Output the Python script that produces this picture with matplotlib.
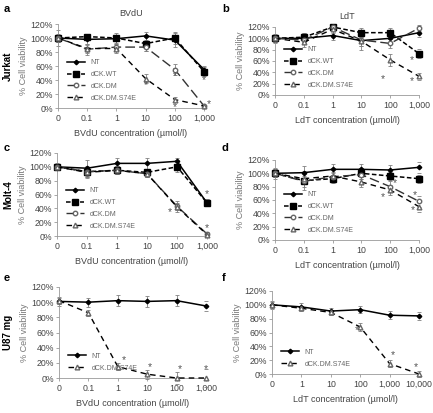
import numpy as np
import matplotlib
matplotlib.use("Agg")
import matplotlib.pyplot as plt

plt.rcParams['font.family'] = ['Liberation Sans', 'DejaVu Sans']

W, H = 433, 413

conc_bvdu = ['0', '0.1', '1', '10', '100', '1,000']
conc_ldt = ['0', '0.1', '1', '10', '100', '1,000']
conc_ldt_u87 = ['0', '1', '10', '100', '1,000', '10,000']

# a: Jurkat / BVdU
a_nt = [100, 98, 99, 103, 97, 55]
a_wt = [100, 102, 100, 92, 100, 52]
a_dm = [100, 84, 87, 87, 55, 3]
a_s74e = [100, 85, 85, 42, 12, 3]
a_nt_err = [12, 8, 8, 6, 10, 5]
a_wt_err = [5, 4, 4, 10, 8, 6]
a_dm_err = [6, 8, 6, 6, 8, 2]
a_s74e_err = [5, 6, 6, 6, 4, 2]
a_stars = [(3, 33), (4, 46), (4, 2), (5, 40), (5.15, 6)]

# b: Jurkat / LdT
b_nt = [100, 100, 105, 96, 100, 110]
b_wt = [100, 102, 120, 110, 110, 73]
b_dm = [100, 97, 120, 97, 91, 118]
b_s74e = [100, 93, 116, 95, 62, 33]
b_nt_err = [8, 10, 8, 10, 10, 8]
b_wt_err = [6, 8, 6, 8, 8, 8]
b_dm_err = [6, 6, 4, 18, 8, 5]
b_s74e_err = [6, 8, 6, 8, 10, 6]
b_stars = [(3.75, 28), (4.75, 62), (4.75, 24)]

# c: Molt-4 / BVdU
c_nt = [100, 98, 105, 105, 108, 48]
c_wt = [100, 93, 95, 92, 100, 48]
c_dm = [100, 93, 95, 90, 43, 3]
c_s74e = [100, 92, 95, 90, 42, 2]
c_nt_err = [5, 12, 8, 8, 5, 5]
c_wt_err = [4, 6, 6, 5, 8, 5]
c_dm_err = [4, 8, 6, 5, 5, 3]
c_s74e_err = [4, 8, 6, 5, 8, 3]
c_stars = [(3.75, 34), (5, 60), (5, 12)]

# d: Molt-4 / LdT
d_nt = [100, 101, 106, 106, 105, 109]
d_wt = [100, 89, 92, 100, 96, 92]
d_dm = [100, 88, 95, 98, 80, 58]
d_s74e = [100, 92, 96, 87, 75, 50]
d_nt_err = [8, 10, 8, 8, 8, 8]
d_wt_err = [6, 14, 6, 8, 6, 6]
d_dm_err = [6, 8, 6, 6, 8, 8]
d_s74e_err = [6, 8, 6, 8, 8, 8]
d_stars = [(4.15, 85), (3.75, 65), (4.85, 68), (4.8, 45)]

# e: U87 mg / BVdU
e_nt = [101, 100, 102, 101, 102, 95]
e_s74e = [102, 86, 15, 5, 0, 0]
e_nt_err = [6, 6, 7, 7, 7, 6]
e_s74e_err = [4, 4, 5, 6, 8, 12]
e_stars = [(2.2, 24), (3.1, 15), (4.1, 12), (5.0, 12)]

# f: U87 mg / LdT
f_nt = [100, 97, 91, 93, 85, 84]
f_s74e = [100, 95, 89, 68, 15, 0]
f_nt_err = [6, 5, 5, 5, 6, 6]
f_s74e_err = [4, 4, 4, 6, 5, 4]
f_stars = [(2.9, 64), (4.1, 27), (4.9, 10)]

styles = {
    'NT': dict(color='black', ls='-', marker='D', ms=2.3, mfc='black', mec='black', lw=1.1),
    'dCK.WT': dict(color='black', ls=(0, (3, 1.6)), marker='s', ms=4, mfc='black', mec='black', lw=1.1),
    'dCK.DM': dict(color='#333333', ls=(0, (7, 3)), marker='o', ms=3.2, mfc='white', mec='#666666', lw=1.0),
    'dCK.DM.S74E': dict(color='black', ls=(0, (4, 3)), marker='^', ms=3.4, mfc='white', mec='#666666', lw=1.0),
}

fig = plt.figure(figsize=(W / 100, H / 100), dpi=100)


def px_axes(x0, y_top, x1, y_bot):
    return fig.add_axes([x0 / W, 1 - y_bot / H, (x1 - x0) / W, (y_bot - y_top) / H])


def panel(ax, ticks, series, stars, title=None, xlabel=None):
    x = np.arange(len(ticks))
    for name, vals, err in series:
        st = styles[name]
        ax.errorbar(x, vals, yerr=err, fmt='none', ecolor='#808080', elinewidth=0.6,
                    capsize=1.5, capthick=0.6, zorder=2)
        ax.plot(x, vals, label=name, zorder=3, **st)
    for sx, sy in stars:
        ax.text(sx, sy, '*', fontsize=7.5, color='#555555', ha='center', va='center')
    ax.set_xlim(0, len(ticks) - 1)
    ax.set_ylim(0, 120)
    ax.set_xticks(x)
    ax.set_xticklabels(ticks)
    ax.set_yticks(np.arange(0, 121, 20))
    ax.set_yticklabels([f'{v}%' for v in range(0, 121, 20)])
    for s in ['top', 'right']:
        ax.spines[s].set_visible(False)
    for s in ['left', 'bottom']:
        ax.spines[s].set_color('#999999')
        ax.spines[s].set_linewidth(0.6)
    ax.tick_params(labelsize=6.3, colors='#999999', labelcolor='#444444', length=2, width=0.6, pad=1.5)
    ax.tick_params(axis='x', pad=2.5)
    ax.set_ylabel('% Cell viability', fontsize=6.5, color='#777777', labelpad=2)
    for l in ax.get_lines():
        l.set_clip_on(False)
    ax.legend(loc='lower left', bbox_to_anchor=(0.02, 0.0), frameon=False, fontsize=5,
              handlelength=2.6, handletextpad=0.8, labelspacing=0.7, labelcolor='#666666')
    if title:
        ax.set_title(title, fontsize=6.5, color='#444444', pad=6)
    if xlabel:
        ax.set_xlabel(xlabel, fontsize=6.5, color='#444444', labelpad=4)


def four(a, b, c, d):
    return [('NT', a[0], a[1]), ('dCK.WT', b[0], b[1]), ('dCK.DM', c[0], c[1]), ('dCK.DM.S74E', d[0], d[1])]


ax_a = px_axes(58, 24, 204, 108)
panel(ax_a, conc_bvdu, four((a_nt, a_nt_err), (a_wt, a_wt_err), (a_dm, a_dm_err), (a_s74e, a_s74e_err)),
      a_stars, title='BVdU', xlabel='BVdU concentration (\u00b5mol/l)')

ax_b = px_axes(275, 27, 419, 95)
panel(ax_b, conc_ldt, four((b_nt, b_nt_err), (b_wt, b_wt_err), (b_dm, b_dm_err), (b_s74e, b_s74e_err)),
      b_stars, title='LdT', xlabel='LdT concentration (\u00b5mol/l)')

ax_c = px_axes(57, 153, 207, 236)
panel(ax_c, conc_bvdu, four((c_nt, c_nt_err), (c_wt, c_wt_err), (c_dm, c_dm_err), (c_s74e, c_s74e_err)),
      c_stars, xlabel='BVdU concentration (\u00b5mol/l)')

ax_d = px_axes(275, 160, 419, 240)
panel(ax_d, conc_ldt, four((d_nt, d_nt_err), (d_wt, d_wt_err), (d_dm, d_dm_err), (d_s74e, d_s74e_err)),
      d_stars, xlabel='LdT concentration (\u00b5mol/l)')

ax_e = px_axes(59, 287, 206, 378)
panel(ax_e, conc_bvdu, [('NT', e_nt, e_nt_err), ('dCK.DM.S74E', e_s74e, e_s74e_err)],
      e_stars, xlabel='BVdU concentration (\u00b5mol/l)')

ax_f = px_axes(272, 291, 419, 374)
panel(ax_f, conc_ldt_u87, [('NT', f_nt, f_nt_err), ('dCK.DM.S74E', f_s74e, f_s74e_err)],
      f_stars, xlabel='LdT concentration (\u00b5mol/l)')

# panel letters and cell line labels
for letter, px, py in [('a', 4, 9), ('b', 222, 9), ('c', 4, 148), ('d', 222, 148), ('e', 4, 278), ('f', 222, 278)]:
    fig.text(px / W, 1 - py / H, letter, fontsize=8, fontweight='bold', ha='left', va='center')
for name, py in [('Jurkat', 66), ('Molt-4', 195), ('U87 mg', 332)]:
    fig.text(8 / W, 1 - py / H, name, fontsize=7, fontweight='bold', rotation=90, ha='center', va='center')

fig.savefig('out.png', dpi=100)
